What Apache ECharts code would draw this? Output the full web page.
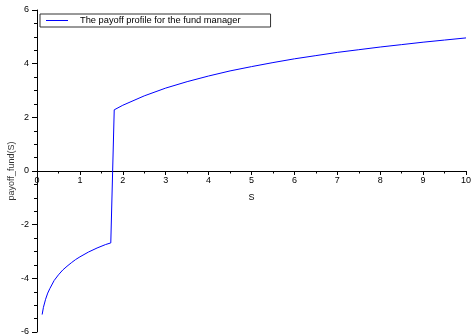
<!DOCTYPE html>
<html><head><meta charset="utf-8">
<script src="https://cdn.jsdelivr.net/npm/echarts@6/dist/echarts.min.js"></script>
<style>html,body{margin:0;padding:0;background:#fff}#c{width:472px;height:336px}</style>
</head><body><div id="c"></div>
<script>
const seriesName = 'The payoff profile for the fund manager';
const sValues = [0.12,0.15,0.2,0.25,0.3,0.4,0.5,0.6,0.7,0.8,0.9,1.0,1.2,1.4,1.6,1.72,1.8,2.0,2.5,3.0,3.5,4.0,4.5,5.0,5.5,6.0,6.5,7.0,7.5,8.0,8.5,9.0,9.5,10.0];
const payoff = [-5.35,-5.08,-4.78,-4.55,-4.38,-4.08,-3.87,-3.69,-3.55,-3.42,-3.30,-3.20,-3.02,-2.87,-2.74,-2.68,2.28,2.45,2.80,3.09,3.33,3.54,3.73,3.89,4.04,4.18,4.30,4.42,4.52,4.62,4.71,4.80,4.88,4.96];
const xTicks = [0,1,2,3,4,5,6,7,8,9,10];
const yTicks = [-6,-4,-2,0,2,4,6];

const font = 'Liberation Sans, Arial, sans-serif';
const W = 472, H = 336, gTop = 10, gBottom = 4;
const plotH = H - gTop - gBottom;
const zeroOffset = -plotH * (0 - yTicks[0]) / (yTicks[yTicks.length-1] - yTicks[0]);
const chart = echarts.init(document.getElementById('c'), null, {renderer:'canvas'});
chart.setOption({
  animation:false,
  backgroundColor:'#fff',
  grid:{left:37,right:6,top:gTop,bottom:gBottom,containLabel:false,outerBoundsMode:'none'},
  legend:{
    left:40, top:14,
    data:[{name:seriesName}],
    icon:'rect', itemWidth:22, itemHeight:1,
    borderColor:'#333', borderWidth:1, borderRadius:0,
    padding:[2,30,2,6],
    textStyle:{fontFamily:font,fontSize:9.3,color:'#000',padding:[0,0,0,7]}
  },
  xAxis:{
    type:'value', min:xTicks[0], max:xTicks[xTicks.length-1], interval:1,
    position:'bottom', offset:zeroOffset,
    name:'S', nameLocation:'middle', nameGap:22, nameMoveOverlap:false,
    nameTextStyle:{fontFamily:font,fontSize:9,color:'#000'},
    axisLine:{onZero:false,lineStyle:{color:'#000',width:1}},
    axisTick:{show:true,length:4,lineStyle:{color:'#000'}},
    minorTick:{show:true,splitNumber:2,length:2.5,lineStyle:{color:'#000'}},
    splitLine:{show:false},
    axisLabel:{fontFamily:font,fontSize:9,color:'#000',margin:5,showMinLabel:true,showMaxLabel:true}
  },
  yAxis:{
    type:'value', min:yTicks[0], max:yTicks[yTicks.length-1], interval:2,
    name:'payoff_fund(S)', nameLocation:'middle', nameGap:21, nameMoveOverlap:false,
    nameTextStyle:{fontFamily:font,fontSize:9,color:'#333'},
    axisLine:{show:true,onZero:false,lineStyle:{color:'#000',width:1}},
    axisTick:{show:true,length:5,lineStyle:{color:'#000'}},
    minorTick:{show:true,splitNumber:4,length:3,lineStyle:{color:'#000'}},
    splitLine:{show:false},
    axisLabel:{fontFamily:font,fontSize:9,color:'#000',margin:8}
  },
  series:[{
    name:seriesName, type:'line', symbol:'none', smooth:false,
    data:sValues.map((s,i)=>[s,payoff[i]]),
    lineStyle:{color:'#0000ff',width:1}, itemStyle:{color:'#0000ff'}
  }]
});
</script></body></html>
